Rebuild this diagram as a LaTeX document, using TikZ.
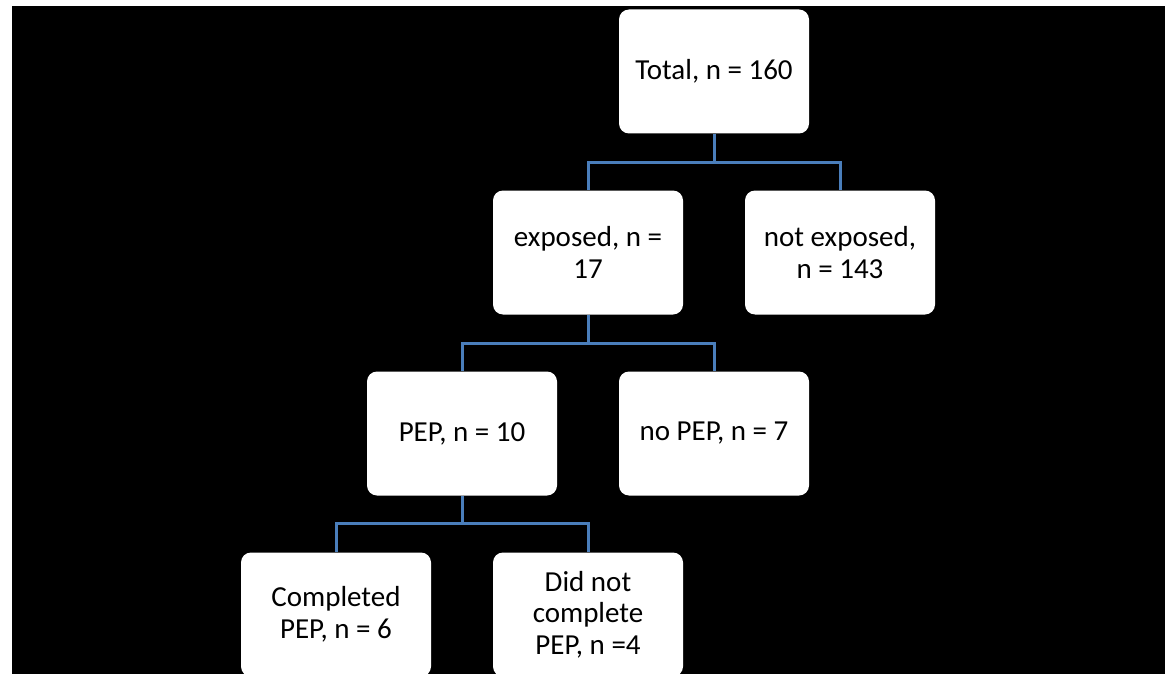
\documentclass[tikz,border=0pt]{standalone}
\usepackage{fontspec}
\setmainfont{Carlito}
\usetikzlibrary{positioning}

\begin{document}
\begin{tikzpicture}[
        x=1pt, y=1pt,
        node distance=181pt and 126pt, on grid,
        box/.style={rectangle, rounded corners=10pt, fill=white, text=black,
          minimum width=190pt, minimum height=124pt, align=center,
          font=\fontsize{29}{31.7}\selectfont},
        link/.style={draw=linkblue, line width=3pt}
        ]
        \definecolor{linkblue}{HTML}{4A7EBB}
        \useasboundingbox (0,0) rectangle (1165,-674);
        \fill[white] (0,0) rectangle (1165,-674);
        \fill[black] (12,-6) rectangle (1165,-674);
        \node[box] (total) at (714,-71.5) {Total, n = 160};
        \node[box, below left=of total] (exposed) {exposed, n =\\17};
        \node[box, below right=of total] (notexposed) {not exposed,\\n = 143};
        \node[box, below left=of exposed] (pep) {PEP, n = 10};
        \node[box, below right=of exposed] (nopep) {no PEP, n = 7};
        \node[box, below left=of pep] (completed) {Completed\\PEP, n = 6};
        \node[box, below right=of pep] (notcompleted) {Did not\\complete\\PEP, n =4};
        \draw[link] (total.south) -- ++(0,-28.5) -| (exposed.north);
        \draw[link] (total.south) -- ++(0,-28.5) -| (notexposed.north);
        \draw[link] (exposed.south) -- ++(0,-28.5) -| (pep.north);
        \draw[link] (exposed.south) -- ++(0,-28.5) -| (nopep.north);
        \draw[link] (pep.south) -- ++(0,-27.5) -| (completed.north);
        \draw[link] (pep.south) -- ++(0,-27.5) -| (notcompleted.north);
        \end{tikzpicture}
\end{document}
